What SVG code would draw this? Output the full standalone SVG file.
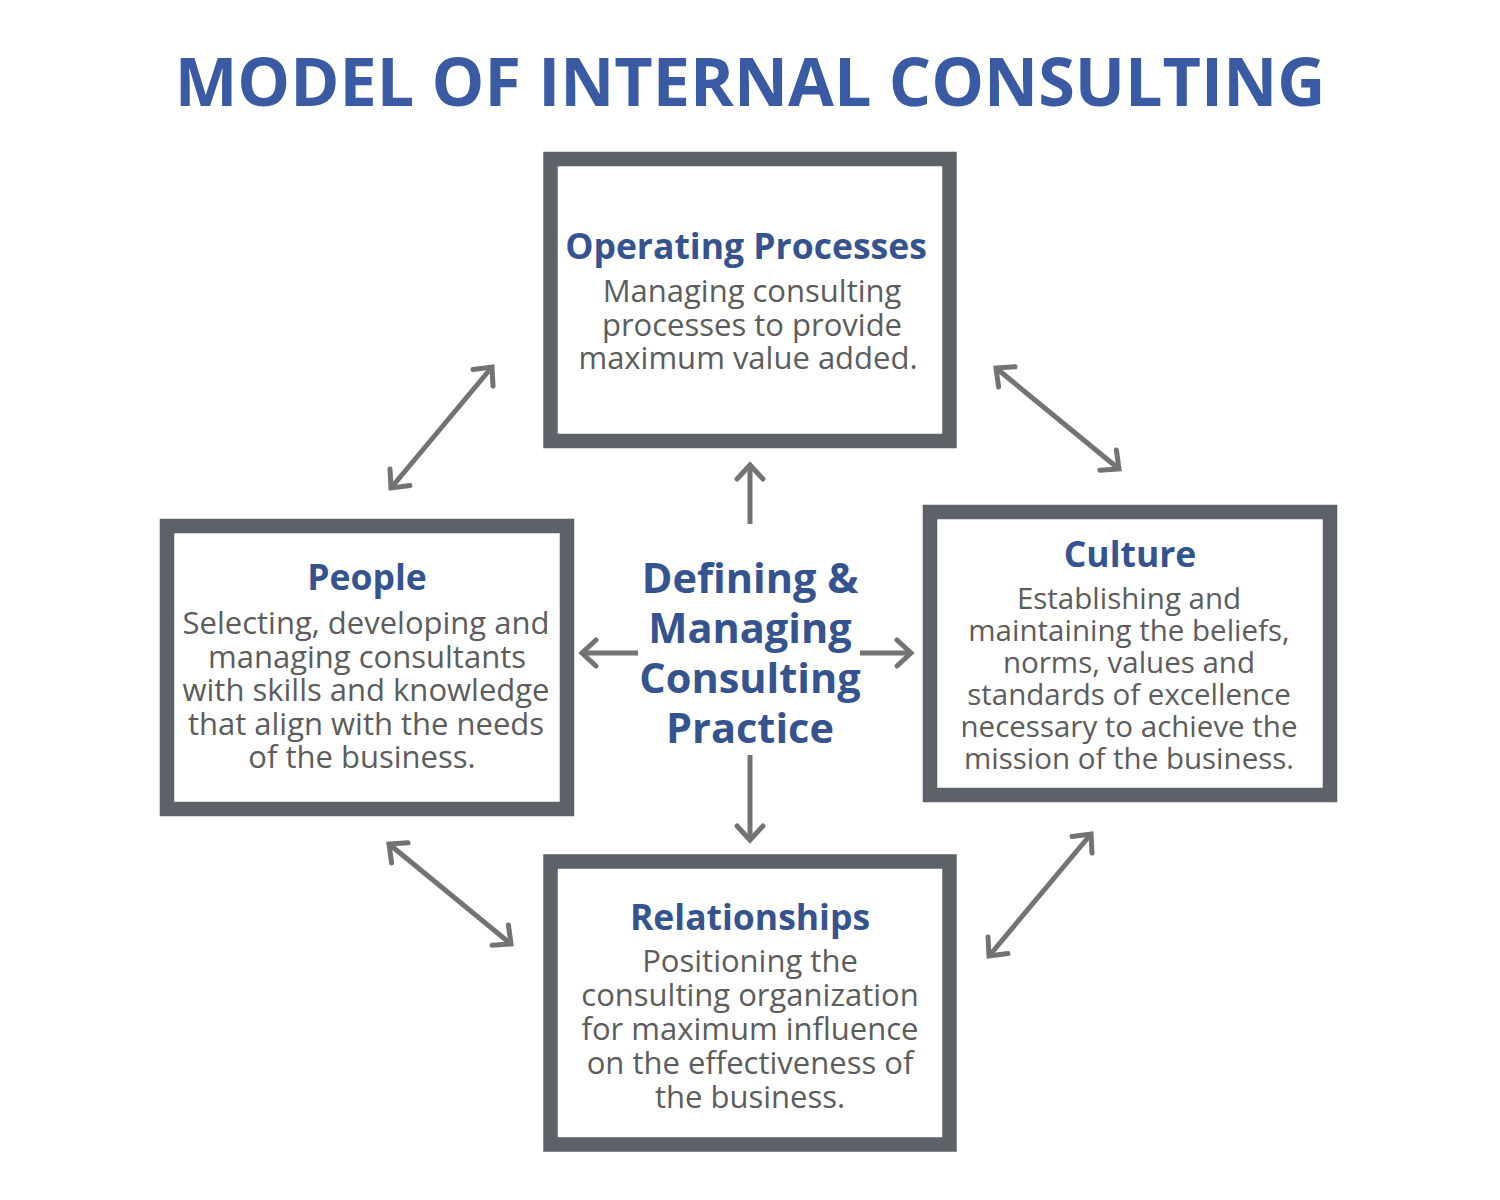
<svg xmlns="http://www.w3.org/2000/svg" width="1500" height="1200" viewBox="0 0 1500 1200">
<defs>
<style>
.title{font-family:"Open Sans","Liberation Sans",sans-serif;font-weight:700;font-size:66.5px;fill:#3a5aa4;text-anchor:middle}
.box{fill:#ffffff;stroke:#5d6168;stroke-width:14.5}
.head{font-family:"Open Sans","Liberation Sans",sans-serif;font-weight:700;font-size:35.5px;fill:#34538f;text-anchor:middle}
.body{font-family:"Open Sans","Liberation Sans",sans-serif;font-weight:400;font-size:31px;fill:#5c5c5c;text-anchor:middle}
.body.sm{font-size:29.5px}
.center{font-family:"Open Sans","Liberation Sans",sans-serif;font-weight:700;font-size:41.5px;fill:#34538f;text-anchor:middle}
.conn{stroke:#737373;stroke-width:5;fill:none}
</style>
<marker id="ah" viewBox="0 0 24 32" markerWidth="24" markerHeight="32" refX="20" refY="16" orient="auto-start-reverse" markerUnits="userSpaceOnUse">
<path d="M6,3 L20,16 L6,29" fill="none" stroke="#737373" stroke-width="5" stroke-linecap="round" stroke-linejoin="miter"/>
</marker>
</defs>
<rect width="1500" height="1200" fill="#ffffff"/>
<text class="title" x="750" y="106">MODEL OF INTERNAL CONSULTING</text>

<g id="connectors">
<line class="conn" x1="750" y1="524" x2="750" y2="465" marker-end="url(#ah)"/>
<line class="conn" x1="750" y1="755" x2="750" y2="840" marker-end="url(#ah)"/>
<line class="conn" x1="638" y1="653" x2="582" y2="653" marker-end="url(#ah)"/>
<line class="conn" x1="860" y1="653" x2="911" y2="653" marker-end="url(#ah)"/>
<line class="conn" x1="391" y1="488" x2="492" y2="367" marker-start="url(#ah)" marker-end="url(#ah)"/>
<line class="conn" x1="996" y1="368" x2="1119" y2="469" marker-start="url(#ah)" marker-end="url(#ah)"/>
<line class="conn" x1="389" y1="844" x2="511" y2="944" marker-start="url(#ah)" marker-end="url(#ah)"/>
<line class="conn" x1="1091" y1="834" x2="989" y2="956" marker-start="url(#ah)" marker-end="url(#ah)"/>
</g>

<g id="center">
<text class="center" x="750" y="593">Defining &amp;</text>
<text class="center" x="750" y="643">Managing</text>
<text class="center" x="750" y="693">Consulting</text>
<text class="center" x="750" y="743">Practice</text>
</g>

<g id="operating-processes">
<rect class="box" x="550.5" y="159" width="399" height="282"/>
<text class="head" x="746" y="259">Operating Processes</text>
<text class="body" x="752" y="302">Managing consulting</text>
<text class="body" x="752" y="336">processes to provide</text>
<text class="body" x="748" y="369">maximum value added.</text>
</g>

<g id="people">
<rect class="box" x="167" y="526" width="400" height="283"/>
<text class="head" x="367" y="590">People</text>
<text class="body" x="366" y="634">Selecting, developing and</text>
<text class="body" x="367" y="668">managing consultants</text>
<text class="body" x="366" y="701">with skills and knowledge</text>
<text class="body" x="366" y="735">that align with the needs</text>
<text class="body" x="362" y="768">of the business.</text>
</g>

<g id="culture">
<rect class="box" x="930" y="512" width="400" height="283"/>
<text class="head" x="1130" y="567">Culture</text>
<text class="body sm" x="1129" y="609">Establishing and</text>
<text class="body sm" x="1129" y="641">maintaining the beliefs,</text>
<text class="body sm" x="1129" y="673">norms, values and</text>
<text class="body sm" x="1129" y="705">standards of excellence</text>
<text class="body sm" x="1129" y="737">necessary to achieve the</text>
<text class="body sm" x="1129" y="769">mission of the business.</text>
</g>

<g id="relationships">
<rect class="box" x="550.5" y="861.5" width="399" height="283"/>
<text class="head" x="750" y="930">Relationships</text>
<text class="body" x="750" y="972">Positioning the</text>
<text class="body" x="750" y="1006">consulting organization</text>
<text class="body" x="750" y="1040">for maximum influence</text>
<text class="body" x="750" y="1074">on the effectiveness of</text>
<text class="body" x="750" y="1108">the business.</text>
</g>
</svg>
